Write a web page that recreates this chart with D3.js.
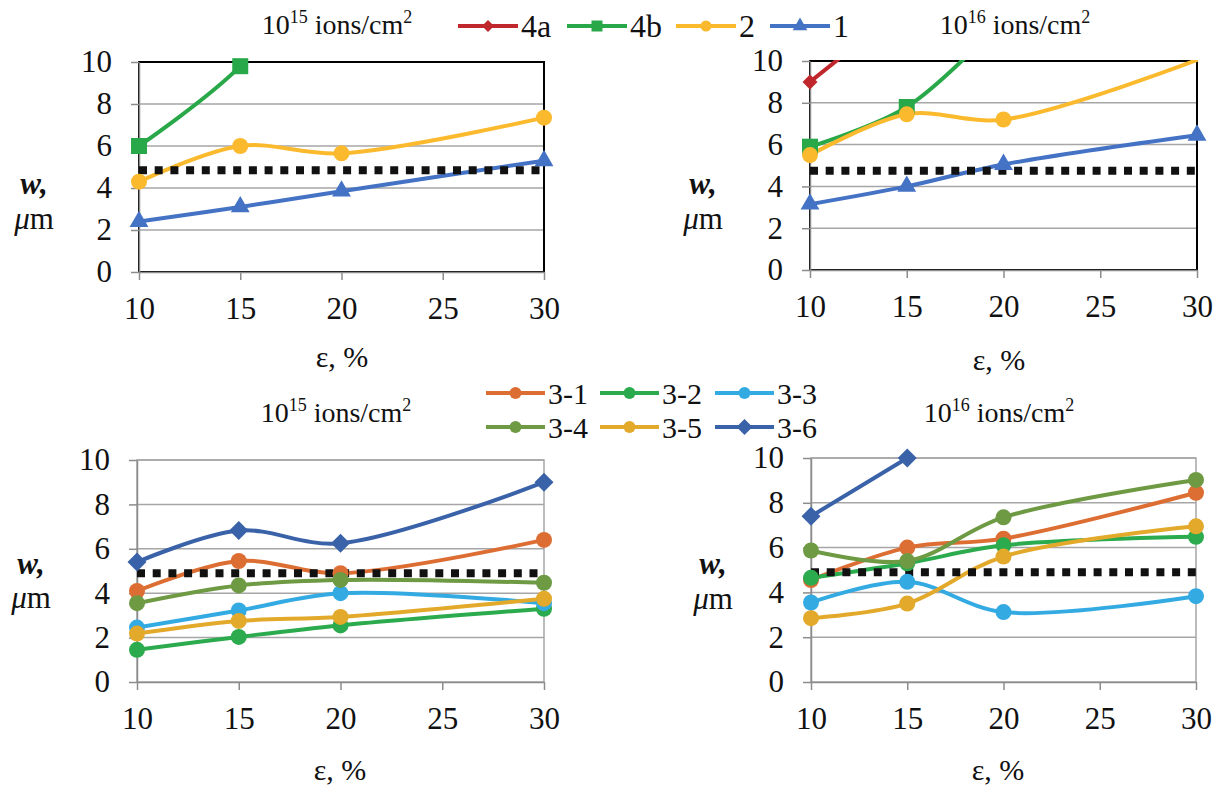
<!DOCTYPE html>
<html>
<head>
<meta charset="utf-8">
<script src="https://d3js.org/d3.v7.js"></script>
<style>
  body { margin: 0; background: #fff; }
  svg { display: block; }
</style>
</head>
<body>
<svg id="chart" width="1219" height="787"></svg>
<script>
  // ---- data ----
  const eps = [10, 15, 20, 30];
  const xTicks = [10, 15, 20, 25, 30];
  const yTicks = [0, 2, 4, 6, 8, 10];

  const topNames = ["4a", "4b", "2", "1"];
  const topColors = ["#C0272D", "#28A848", "#FBBA2E", "#4472C4"];
  const topShapes = ["diamond", "square", "circle", "triangle"];

  // 10^15 ions/cm2, upper
  const up15_4a = [null, null, null, null];
  const up15_4b = [6.0, 9.8, 16, null];
  const up15_2 = [4.3, 6.0, 5.65, 7.35];
  const up15_1 = [2.4, 3.1, 3.85, 5.3];
  // 10^16 ions/cm2, upper
  const up16_4a = [9.0, 12.7, null, null];
  const up16_4b = [5.9, 7.8, 12.0, null];
  const up16_2 = [5.5, 7.45, 7.2, 10.05];
  const up16_1 = [3.15, 4.0, 5.05, 6.45];

  const botNames = ["3-1", "3-2", "3-3", "3-4", "3-5", "3-6"];
  const botColors = ["#DD6E33", "#2BAB4E", "#33AAE2", "#6E9A44", "#E2A92B", "#3A62A8"];
  const botShapes = ["circle", "circle", "circle", "circle", "circle", "diamond"];

  // 10^15 ions/cm2, lower
  const lo15_31 = [4.1, 5.45, 4.9, 6.4];
  const lo15_32 = [1.45, 2.03, 2.55, 3.3];
  const lo15_33 = [2.45, 3.22, 4.0, 3.55];
  const lo15_34 = [3.55, 4.35, 4.6, 4.47];
  const lo15_35 = [2.18, 2.75, 2.93, 3.75];
  const lo15_36 = [5.4, 6.82, 6.25, 9.0];
  // 10^16 ions/cm2, lower
  const lo16_31 = [4.55, 6.0, 6.4, 8.45];
  const lo16_32 = [4.65, 5.3, 6.1, 6.48];
  const lo16_33 = [3.55, 4.47, 3.12, 3.83];
  const lo16_34 = [5.87, 5.4, 7.35, 9.02];
  const lo16_35 = [2.85, 3.5, 5.6, 6.95];
  const lo16_36 = [7.4, 10.0, null, null];

  // dotted reference level per panel
  const limits = [4.85, 4.75, 4.9, 4.9];

  const FONT = "Liberation Serif";

  // ---- layout ----
  const panels = [
    { x0: 139, x1: 544, y0: 62, y1: 272, frame: "#000", exp: "15", tx: 337, ty: 34,
      wx: 34, wy: 194, my: 229, ex: 342, ey: 367,
      values: [up15_4a, up15_4b, up15_2, up15_1], colors: topColors, shapes: topShapes },
    { x0: 810, x1: 1197, y0: 61, y1: 270, frame: "#000", exp: "16", tx: 1015, ty: 34,
      wx: 703, wy: 194, my: 229, ex: 999, ey: 370,
      values: [up16_4a, up16_4b, up16_2, up16_1], colors: topColors, shapes: topShapes },
    { x0: 137, x1: 544, y0: 460, y1: 682, frame: "#A6A6A6", exp: "15", tx: 336, ty: 422,
      wx: 31, wy: 574, my: 608, ex: 340, ey: 780,
      values: [lo15_31, lo15_32, lo15_33, lo15_34, lo15_35, lo15_36], colors: botColors, shapes: botShapes },
    { x0: 811, x1: 1196, y0: 458, y1: 682, frame: "#A6A6A6", exp: "16", tx: 999, ty: 422,
      wx: 713, wy: 574, my: 609, ex: 998, ey: 780,
      values: [lo16_31, lo16_32, lo16_33, lo16_34, lo16_35, lo16_36], colors: botColors, shapes: botShapes }
  ];

  const svg = d3.select("#chart");

  function marker(sel, shape, color, s) {
    let path, rot = 0;
    if (shape === "circle") path = d3.symbol(d3.symbolCircle, Math.PI * s * s)();
    else if (shape === "square") path = d3.symbol(d3.symbolSquare, 4 * s * s)();
    else if (shape === "diamond") { path = d3.symbol(d3.symbolSquare, 2 * s * s)(); rot = 45; }
    else path = d3.symbol(d3.symbolTriangle, 1.9 * s * s)();
    sel.append("path").attr("d", path).attr("fill", color)
      .attr("transform", "rotate(" + rot + ")");
  }

  function addText(sel) {
    return sel.append("text").attr("font-family", FONT).attr("fill", "#111");
  }

  panels.forEach(function (p, pi) {
    const x = d3.scaleLinear().domain([10, 30]).range([p.x0, p.x1]);
    const y = d3.scaleLinear().domain([0, 10]).range([p.y1, p.y0]);
    const g = svg.append("g");

    // gridlines
    g.append("g").selectAll("line").data(yTicks.slice(1))
      .join("line")
      .attr("x1", p.x0).attr("x2", p.x1)
      .attr("y1", d => y(d)).attr("y2", d => y(d))
      .attr("stroke", "#A6A6A6").attr("stroke-width", 1.5);

    // frame
    g.append("rect")
      .attr("x", p.x0).attr("y", p.y0)
      .attr("width", p.x1 - p.x0).attr("height", p.y1 - p.y0)
      .attr("fill", "none").attr("stroke", p.frame).attr("stroke-width", p.frame === "#000" ? 2 : 1.5);

    // axes
    const ax = g.append("g").attr("transform", "translate(0," + p.y1 + ")")
      .call(d3.axisBottom(x).tickValues(xTicks).tickSize(8).tickSizeOuter(0).tickPadding(17));
    const ay = g.append("g").attr("transform", "translate(" + p.x0 + ",0)")
      .call(d3.axisLeft(y).tickValues(yTicks).tickSize(8).tickSizeOuter(0).tickPadding(19));
    [ax, ay].forEach(function (a) {
      a.attr("font-family", null).attr("font-size", null);
      a.selectAll("path, line").attr("stroke", "#8C8C8C").attr("stroke-width", 1.5);
      a.selectAll("text").attr("fill", "#111")
        .attr("font-family", FONT).attr("font-size", 31);
    });

    // clip
    const cid = "clip" + pi;
    svg.append("clipPath").attr("id", cid).append("rect")
      .attr("x", p.x0).attr("y", p.y0 - 1)
      .attr("width", p.x1 - p.x0 + 1).attr("height", p.y1 - p.y0 + 1);

    const plot = g.append("g").attr("clip-path", "url(#" + cid + ")");
    const line = d3.line()
      .defined(d => d[1] != null)
      .x(d => x(d[0])).y(d => y(d[1]))
      .curve(d3.curveCatmullRom.alpha(0.5));

    p.values.forEach(function (vals, si) {
      const pts = eps.map((e, i) => [e, vals[i]]);
      plot.append("path").datum(pts)
        .attr("d", line)
        .attr("fill", "none").attr("stroke", p.colors[si])
        .attr("stroke-width", 4).attr("stroke-linejoin", "round").attr("stroke-linecap", "round");
    });

    // dotted threshold
    g.append("line")
      .attr("x1", p.x0).attr("x2", p.x1)
      .attr("y1", y(limits[pi])).attr("y2", y(limits[pi]))
      .attr("stroke", "#111").attr("stroke-width", 8)
      .attr("stroke-dasharray", "8,7.7");

    // markers
    p.values.forEach(function (vals, si) {
      const shp = p.shapes[si];
      const sz = shp === "diamond" ? (pi < 2 ? 7.5 : 9.5) : (shp === "triangle" ? 9 : 8);
      eps.forEach(function (e, i) {
        const v = vals[i];
        if (v == null || v > 10.01 || v < 0) return;
        const m = g.append("g").attr("transform", "translate(" + x(e) + "," + y(v) + ")");
        marker(m, shp, p.colors[si], sz);
      });
    });

    // title
    const t = addText(g).attr("x", p.tx).attr("y", p.ty)
      .attr("text-anchor", "middle").attr("font-size", 28);
    t.append("tspan").text("10");
    t.append("tspan").attr("font-size", 18).attr("dy", -11).text(p.exp);
    t.append("tspan").attr("dy", 11).text(" ions/cm");
    t.append("tspan").attr("font-size", 18).attr("dy", -11).text("2");

    // y label
    addText(g).attr("x", p.wx).attr("y", p.wy).attr("text-anchor", "middle")
      .attr("font-size", 31).attr("font-weight", "bold").attr("font-style", "italic").text("w,");
    const mu = addText(g).attr("x", p.wx).attr("y", p.my).attr("text-anchor", "middle")
      .attr("font-size", 31);
    mu.append("tspan").attr("font-style", "italic").text("\u03BC");
    mu.append("tspan").text("m");

    // x label
    addText(g).attr("x", p.ex).attr("y", p.ey).attr("text-anchor", "middle")
      .attr("font-size", 30).text("\u03B5, %");
  });

  // ---- legends ----
  function legendItem(x1, x2, yy, name, color, shape, s, fs) {
    const lg = svg.append("g");
    lg.append("line").attr("x1", x1).attr("x2", x2).attr("y1", yy).attr("y2", yy)
      .attr("stroke", color).attr("stroke-width", 4);
    const m = lg.append("g").attr("transform", "translate(" + (x1 + x2) / 2 + "," + yy + ")");
    marker(m, shape, color, s);
    addText(lg).attr("x", x2 + 3).attr("y", yy).attr("dy", "0.35em")
      .attr("font-size", fs).text(name);
  }

  const topLegX = [458, 567, 676, 770];
  topNames.forEach(function (n, i) {
    legendItem(topLegX[i], topLegX[i] + 60, 26, n, topColors[i], topShapes[i],
      topShapes[i] === "diamond" ? 6 : (topShapes[i] === "triangle" ? 7 : 5.5), 32);
  });

  const botLegX = [486, 600, 715];
  const botLegY = [393, 427];
  botNames.forEach(function (n, i) {
    legendItem(botLegX[i % 3], botLegX[i % 3] + 59, botLegY[Math.floor(i / 3)], n, botColors[i], botShapes[i],
      botShapes[i] === "diamond" ? 8 : 6, 30);
  });
</script>
</body>
</html>
